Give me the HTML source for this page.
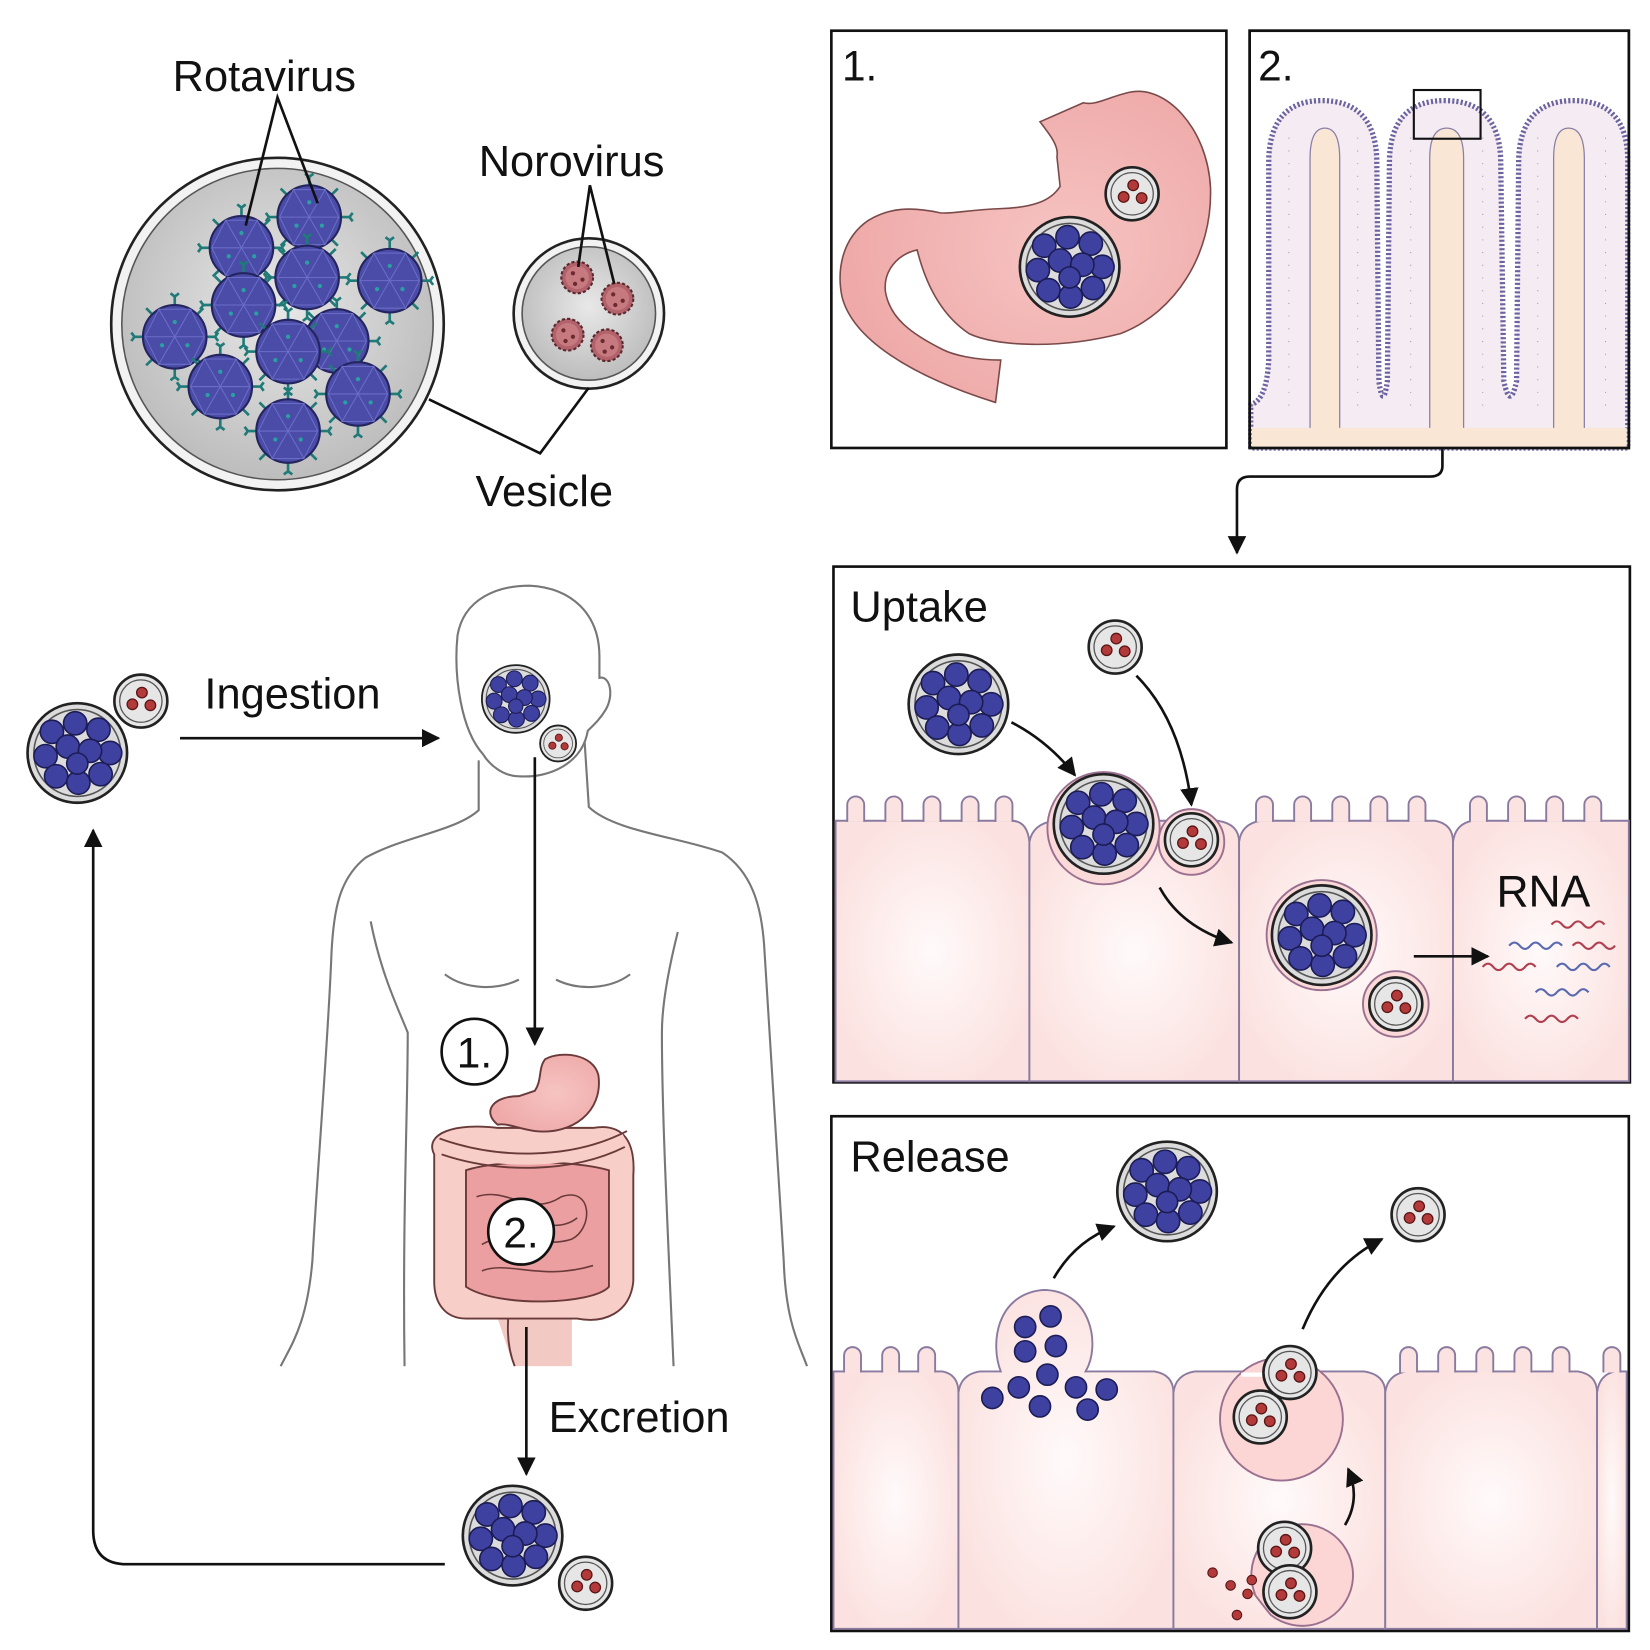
<!DOCTYPE html>
<html><head><meta charset="utf-8"><style>
html,body{margin:0;padding:0;background:#fff}
svg{display:block}
text{font-family:"Liberation Sans",sans-serif;fill:#111}
</style></head><body>
<svg width="1650" height="1650" viewBox="0 0 1558 1558" xmlns="http://www.w3.org/2000/svg">
<defs>
<radialGradient id="gv" cx="50%" cy="45%" r="55%"><stop offset="0" stop-color="#e8e8e8"/><stop offset="1" stop-color="#bdbdbd"/></radialGradient>
<radialGradient id="gc" cx="50%" cy="50%" r="55%"><stop offset="0" stop-color="#fffafa"/><stop offset="1" stop-color="#fbe2e0"/></radialGradient>
<radialGradient id="gs" cx="60%" cy="50%" r="60%"><stop offset="0" stop-color="#f6c4c2"/><stop offset="1" stop-color="#eea9a8"/></radialGradient>
<marker id="ah" viewBox="0 0 10 10" refX="9" refY="5" markerWidth="7" markerHeight="7" orient="auto"><path d="M0,0 L10,5 L0,10 Z" fill="#111"/></marker>
<g id="R">
<circle r="47" fill="#dcdcdc" stroke="#222" stroke-width="2.5"/>
<circle r="41" fill="none" stroke="#555" stroke-width="1.5"/>
<g fill="#3f41a0" stroke="#1c1c55" stroke-width="1.5">
<circle cx="-24" cy="-20" r="11"/><circle cx="-2" cy="-28" r="11"/><circle cx="20" cy="-22" r="11"/>
<circle cx="31" cy="0" r="11"/><circle cx="-30" cy="3" r="11"/><circle cx="-9" cy="-6" r="11"/>
<circle cx="12" cy="-2" r="11"/><circle cx="22" cy="20" r="11"/><circle cx="-20" cy="22" r="11"/>
<circle cx="1" cy="28" r="11"/><circle cx="0" cy="10" r="10"/></g>
</g>
<g id="N">
<circle r="25" fill="#e6e6e6" stroke="#222" stroke-width="2.5"/>
<circle r="20" fill="none" stroke="#555" stroke-width="1.2"/>
<g fill="#b23a3a" stroke="#5a1515" stroke-width="1.2"><circle cx="-8" cy="3" r="5"/><circle cx="1" cy="-8" r="5"/><circle cx="9" cy="4" r="5"/></g>
</g>
<g id="P">
<g stroke="#1f7a78" stroke-width="2.5" fill="none">
<path d="M0,-30 v-8 M-4,-41 l4,3 l4,-3 M30,0 h8 M41,-4 l-3,4 l3,4 M0,30 v8 M-4,41 l4,-3 l4,3 M-30,0 h-8 M-41,-4 l3,4 l-3,4 M21,-21 l6,-6 M-21,-21 l-6,-6 M21,21 l6,6 M-21,21 l-6,6"/>
</g>
<circle r="30" fill="#4a4ca8" stroke="#24245f" stroke-width="2"/>
<path d="M-15,-26 L15,-26 L28,0 L15,26 L-15,26 L-28,0 Z M-15,-26 L0,0 L15,-26 M28,0 L0,0 L-28,0 M-15,26 L0,0 L15,26" fill="none" stroke="#6a6cc8" stroke-width="1"/>
<g fill="#2aa0a0"><circle cx="0" cy="-14" r="2"/><circle cx="12" cy="8" r="2"/><circle cx="-12" cy="8" r="2"/></g>
</g>
<g id="Q">
<circle r="15" fill="#b2626a" stroke="#5a2a30" stroke-width="2" stroke-dasharray="3 2"/>
<circle r="11" fill="#c67a80"/>
<g fill="#6a2a30"><circle cx="-4" cy="-4" r="2"/><circle cx="5" cy="2" r="2"/><circle cx="-2" cy="6" r="2"/></g>
</g>
</defs>

<!-- Top-left vesicles -->
<circle cx="262" cy="306" r="157" fill="#f2f2f2" stroke="#222" stroke-width="2.5"/>
<circle cx="262" cy="306" r="147" fill="url(#gv)" stroke="#555" stroke-width="1.5"/>
<use href="#P" transform="translate(292,205)"/>
<use href="#P" transform="translate(228,234)"/>
<use href="#P" transform="translate(368,265)"/>
<use href="#P" transform="translate(290,262)"/>
<use href="#P" transform="translate(165,318)"/>
<use href="#P" transform="translate(230,288)"/>
<use href="#P" transform="translate(318,322)"/>
<use href="#P" transform="translate(272,332)"/>
<use href="#P" transform="translate(208,365)"/>
<use href="#P" transform="translate(338,372)"/>
<use href="#P" transform="translate(272,407)"/>
<circle cx="556" cy="296" r="71" fill="#f2f2f2" stroke="#222" stroke-width="2.5"/>
<circle cx="556" cy="296" r="63" fill="url(#gv)" stroke="#555" stroke-width="1.5"/>
<use href="#Q" transform="translate(545,262)"/>
<use href="#Q" transform="translate(583,282)"/>
<use href="#Q" transform="translate(536,316)"/>
<use href="#Q" transform="translate(573,326)"/>
<g stroke="#111" stroke-width="2.5" fill="none">
<path d="M232,213 L262,92 L300,192"/>
<path d="M546,252 L557,175 L580,268"/>
<path d="M405,377 L510,428 L556,366"/>
</g>
<text x="163" y="86" font-size="41">Rotavirus</text>
<text x="452" y="166" font-size="41">Norovirus</text>
<text x="449" y="478" font-size="41">Vesicle</text>

<!-- Body -->
<g stroke="#777" stroke-width="2" fill="none">
<path d="M456,712 C436,690 428,640 432,600 C438,565 470,553 500,553 C540,555 566,580 566,620 L566,640 C576,638 580,656 572,670 C566,680 560,685 555,690 C550,720 520,735 490,733 C475,733 462,722 456,712 Z"/>
<path d="M452,718 L452,765 C430,785 380,790 345,810 C320,830 315,860 313,900 C310,980 300,1100 295,1190 C290,1250 275,1270 265,1290"/>
<path d="M552,700 L556,762 C580,785 640,790 682,805 C712,825 720,860 722,900 C728,1000 735,1100 740,1190 C742,1250 755,1270 762,1290"/>
<path d="M350,870 C360,920 375,950 385,975 C385,1050 380,1150 382,1290"/>
<path d="M640,880 C630,920 625,950 625,975 C625,1050 630,1150 636,1290"/>
<path d="M420,920 C440,935 470,935 490,925 M525,925 C545,935 575,935 595,920"/>
</g>
<!-- intestines -->
<g stroke="#6a3a3a" stroke-width="1.8">
<path d="M470,1245 L480,1240 L540,1240 L540,1290 L485,1290 Z" fill="#f3c9c4" stroke="none"/>
<path d="M483,1215 C478,1250 478,1270 486,1290 M540,1225 C545,1240 570,1250 590,1230" fill="none"/>
<path d="M410,1090 C400,1070 430,1060 470,1065 L560,1065 C590,1060 600,1080 598,1110 L598,1210 C595,1240 570,1250 545,1245 L440,1245 C420,1245 410,1230 410,1210 Z" fill="#f7cfc8"/>
<path d="M440,1105 C470,1095 540,1095 575,1105 L575,1215 C560,1232 470,1235 440,1215 Z" fill="#ec9fa0"/>
<path d="M450,1130 C480,1120 500,1150 530,1130 C560,1120 560,1160 540,1170 C510,1180 480,1160 455,1175 M455,1200 C480,1190 510,1210 560,1195 M465,1150 C490,1140 520,1170 545,1150" fill="none" stroke-width="1.5"/>
<path d="M415,1082 C470,1100 540,1100 590,1075" fill="none" stroke-width="10" stroke="#f7cfc8"/>
<path d="M415,1075 C470,1095 540,1095 592,1068 M417,1090 C470,1108 540,1108 590,1083" fill="none"/>
<path d="M470,1062 C455,1050 465,1035 490,1035 L505,1030 C512,1020 508,1008 515,1000 C530,992 560,995 565,1015 C570,1050 540,1072 505,1068 C490,1066 478,1060 470,1062 Z" fill="url(#gs)"/>
</g>
<g stroke="#111" stroke-width="2.5" fill="#fff">
<circle cx="448" cy="993" r="31"/><circle cx="492" cy="1163" r="31"/>
</g>
<text x="448" y="1008" font-size="40" text-anchor="middle">1.</text>
<text x="492" y="1178" font-size="40" text-anchor="middle">2.</text>

<!-- left flow vesicles -->
<use href="#R" transform="translate(73,711)"/>
<use href="#N" transform="translate(133,662)"/>
<use href="#R" transform="translate(487,660) scale(0.68)"/>
<use href="#N" transform="translate(527,702) scale(0.68)"/>
<use href="#R" transform="translate(484,1450)"/>
<use href="#N" transform="translate(553,1495)"/>
<g stroke="#111" stroke-width="2.5" fill="none" marker-end="url(#ah)">
<path d="M170,697 L414,697"/>
<path d="M505,715 L505,986"/>
<path d="M497,1253 L497,1392"/>
<path d="M420,1477 L120,1477 Q88,1477 88,1445 L88,784"/>
<path d="M1362,424 L1362,440 Q1362,450 1350,450 L1180,450 Q1168,450 1168,462 L1168,522"/>
</g>
<text x="193" y="669" font-size="41">Ingestion</text>
<text x="518" y="1352" font-size="41">Excretion</text>

<!-- Box 1 -->
<rect x="785" y="29" width="373" height="394" fill="#fff" stroke="#111" stroke-width="2.5"/>
<text x="795" y="76" font-size="40">1.</text>
<path d="M982,115 C992,128 1000,138 998,148 L1001,176 C992,190 975,196 945,197 C915,198 900,202 888,201 C860,195 840,196 820,208 C795,225 790,255 795,280 C805,320 860,355 940,380 L945,340 C920,340 900,335 890,330 C860,315 840,300 836,275 C834,255 848,240 866,236 C872,260 885,295 915,315 C940,327 1000,330 1058,315 C1110,295 1145,240 1143,177 C1140,120 1100,80 1067,87 C1045,92 1035,100 1023,97 Z" fill="url(#gs)" stroke="#7a4a4a" stroke-width="1.5"/>
<use href="#R" transform="translate(1010,252)"/>
<use href="#N" transform="translate(1069,183)"/>

<!-- Box 2 -->
<rect x="1180" y="29" width="358" height="394" fill="#fff" stroke="#111" stroke-width="2.5"/>
<path d="M1181,423 L1181,382 Q1196,378 1198,340 L1198,150 Q1200,95 1248,95 Q1298,95 1300,150 L1302,360 Q1306,388 1310,360 L1312,150 Q1314,95 1364,95 Q1415,95 1417,150 L1420,360 Q1426,388 1432,360 L1434,150 Q1436,95 1486,95 Q1536,95 1537,150 L1537,423 Z" fill="#f4ecf2" stroke="#6d63a0" stroke-width="5" stroke-dasharray="2 2"/>
<g fill="#f9e6d4" stroke="#8a7fa8" stroke-width="1.2">
<path d="M1237,405 L1237,150 Q1237,121 1251,121 Q1265,121 1265,150 L1265,405"/>
<path d="M1350,405 L1350,150 Q1350,121 1366,121 Q1382,121 1382,150 L1382,405"/>
<path d="M1467,405 L1467,150 Q1467,121 1481,121 Q1496,121 1496,150 L1496,405"/>
</g>
<rect x="1182" y="404" width="354" height="18" fill="#f9e6d4"/>
<g stroke="#a59ac0" stroke-width="1" fill="none" stroke-dasharray="1 11">
<path d="M1217,130 V390 M1282,130 V390 M1332,130 V390 M1400,130 V390 M1452,130 V390 M1516,130 V390"/>
</g>
<rect x="1180" y="29" width="358" height="394" fill="none" stroke="#111" stroke-width="2.5"/>
<rect x="1335" y="85" width="63" height="46" fill="none" stroke="#111" stroke-width="2"/>
<text x="1188" y="76" font-size="40">2.</text>

<!-- Uptake box -->
<rect x="787" y="535" width="752" height="487" fill="#fff" stroke="#111" stroke-width="2.5"/>
<g fill="url(#gc)" stroke="#8a7aa0" stroke-width="1.8">
<path d="M789,775 L955,775 Q970,775 972,795 L972,1021 L789,1021 Z"/>
<path d="M972,795 Q975,778 995,775 L1150,775 Q1170,778 1170,795 L1170,1021 L972,1021 Z"/>
<path d="M1170,795 Q1172,778 1190,775 L1355,775 Q1372,778 1372,795 L1372,1021 L1170,1021 Z"/>
<path d="M1372,795 Q1374,778 1390,775 L1538,775 L1538,1021 L1372,1021 Z"/>
</g>
<g fill="#fbe3e1" stroke="#8a7aa0" stroke-width="1.8">
<path d="M800,776 v-16 a8,8 0 0 1 16,0 v16"/><path d="M836,776 v-16 a8,8 0 0 1 16,0 v16"/><path d="M872,776 v-16 a8,8 0 0 1 16,0 v16"/><path d="M908,776 v-16 a8,8 0 0 1 16,0 v16"/><path d="M940,776 v-16 a8,8 0 0 1 16,0 v16"/>
<path d="M1186,776 v-16 a8,8 0 0 1 16,0 v16"/><path d="M1222,776 v-16 a8,8 0 0 1 16,0 v16"/><path d="M1258,776 v-16 a8,8 0 0 1 16,0 v16"/><path d="M1294,776 v-16 a8,8 0 0 1 16,0 v16"/><path d="M1330,776 v-16 a8,8 0 0 1 16,0 v16"/>
<path d="M1388,776 v-16 a8,8 0 0 1 16,0 v16"/><path d="M1424,776 v-16 a8,8 0 0 1 16,0 v16"/><path d="M1460,776 v-16 a8,8 0 0 1 16,0 v16"/><path d="M1496,776 v-16 a8,8 0 0 1 16,0 v16"/>
</g>
<g fill="#fbd9d8" stroke="#9a7090" stroke-width="1.8">
<circle cx="1042" cy="782" r="53"/><circle cx="1125" cy="795" r="31"/>
<circle cx="1248" cy="883" r="52"/><circle cx="1318" cy="948" r="31"/>
</g>
<use href="#R" transform="translate(905,665)"/>
<use href="#N" transform="translate(1053,611)"/>
<use href="#R" transform="translate(1042,778)"/>
<use href="#N" transform="translate(1125,793)"/>
<use href="#R" transform="translate(1248,883)"/>
<use href="#N" transform="translate(1318,948)"/>
<g stroke="#111" stroke-width="2.5" fill="none" marker-end="url(#ah)">
<path d="M955,682 Q990,700 1015,732"/>
<path d="M1073,638 Q1115,680 1125,760"/>
<path d="M1095,838 Q1115,875 1163,890"/>
<path d="M1335,903 L1405,903"/>
</g>
<g fill="none" stroke-width="2">
<path d="M1465,873 q5,-6 10,0 t10,0 t10,0 t10,0 t10,0" stroke="#b04050"/>
<path d="M1425,893 q5,-6 10,0 t10,0 t10,0 t10,0 t10,0" stroke="#5a6ab0"/>
<path d="M1485,893 q5,-6 10,0 t10,0 t10,0 t10,0" stroke="#b04050"/>
<path d="M1400,913 q5,-6 10,0 t10,0 t10,0 t10,0 t10,0" stroke="#b04050"/>
<path d="M1470,913 q5,-6 10,0 t10,0 t10,0 t10,0 t10,0" stroke="#5a6ab0"/>
<path d="M1450,937 q5,-6 10,0 t10,0 t10,0 t10,0 t10,0" stroke="#5a6ab0"/>
<path d="M1440,962 q5,-6 10,0 t10,0 t10,0 t10,0 t10,0" stroke="#b04050"/>
</g>
<text x="803" y="587" font-size="41">Uptake</text>
<text x="1413" y="856" font-size="42">RNA</text>

<!-- Release box -->
<rect x="785" y="1054" width="753" height="486" fill="#fff" stroke="#111" stroke-width="2.5"/>
<g fill="url(#gc)" stroke="#8a7aa0" stroke-width="1.8">
<path d="M787,1295 L890,1295 Q905,1298 905,1315 L905,1538 L787,1538 Z"/>
<path d="M905,1315 Q907,1298 925,1295 L945,1295 C935,1270 940,1222 985,1218 C1030,1218 1040,1270 1025,1295 L1090,1295 Q1108,1298 1108,1315 L1108,1538 L905,1538 Z"/>
<path d="M1108,1315 Q1110,1298 1128,1295 L1288,1295 Q1308,1298 1308,1315 L1308,1538 L1108,1538 Z"/>
<path d="M1308,1315 Q1310,1298 1328,1295 L1490,1295 Q1508,1298 1508,1315 L1508,1538 L1308,1538 Z"/>
<path d="M1508,1315 Q1510,1298 1525,1295 L1536,1295 L1536,1538 L1508,1538 Z"/>
</g>
<g fill="#fbe3e1" stroke="#8a7aa0" stroke-width="1.8">
<path d="M797,1296 v-16 a8,8 0 0 1 16,0 v16"/><path d="M833,1296 v-16 a8,8 0 0 1 16,0 v16"/><path d="M867,1296 v-16 a8,8 0 0 1 16,0 v16"/>
<path d="M1322,1296 v-16 a8,8 0 0 1 16,0 v16"/><path d="M1358,1296 v-16 a8,8 0 0 1 16,0 v16"/><path d="M1394,1296 v-16 a8,8 0 0 1 16,0 v16"/><path d="M1430,1296 v-16 a8,8 0 0 1 16,0 v16"/><path d="M1466,1296 v-16 a8,8 0 0 1 16,0 v16"/>
<path d="M1514,1296 v-16 a8,8 0 0 1 16,0 v16"/>
</g>
<g fill="#fbd6d4" stroke="#9a7090" stroke-width="1.8">
<circle cx="1210" cy="1340" r="58"/>
<path d="M1185,1505 A48,48 0 1 1 1200,1525 Q1180,1500 1185,1505 Z"/>
</g>
<rect x="1172" y="1296" width="70" height="4" fill="#fff"/>
<use href="#N" transform="translate(1218,1296)"/>
<use href="#N" transform="translate(1190,1338)"/>
<use href="#N" transform="translate(1213,1462)"/>
<use href="#N" transform="translate(1218,1503)"/>
<use href="#R" transform="translate(1102,1125)"/>
<use href="#N" transform="translate(1339,1147)"/>
<g fill="#3f41a0" stroke="#1c1c55" stroke-width="1.5">
<circle cx="968" cy="1253" r="10"/><circle cx="992" cy="1243" r="10"/><circle cx="968" cy="1276" r="10"/><circle cx="997" cy="1271" r="10"/><circle cx="989" cy="1298" r="10"/><circle cx="937" cy="1320" r="10"/><circle cx="962" cy="1310" r="10"/><circle cx="982" cy="1328" r="10"/><circle cx="1016" cy="1310" r="10"/><circle cx="1045" cy="1312" r="10"/><circle cx="1027" cy="1331" r="10"/>
</g>
<g fill="#b23a3a" stroke="#5a1515" stroke-width="1"><circle cx="1145" cy="1485" r="4.5"/><circle cx="1162" cy="1497" r="4.5"/><circle cx="1178" cy="1505" r="4.5"/><circle cx="1168" cy="1525" r="4.5"/><circle cx="1182" cy="1492" r="4.5"/></g>
<g stroke="#111" stroke-width="2.5" fill="none" marker-end="url(#ah)">
<path d="M995,1207 Q1015,1172 1052,1158"/>
<path d="M1230,1255 Q1255,1195 1305,1170"/>
<path d="M1270,1440 Q1285,1415 1273,1387"/>
</g>
<text x="803" y="1106" font-size="41">Release</text>
</svg>
</body></html>
